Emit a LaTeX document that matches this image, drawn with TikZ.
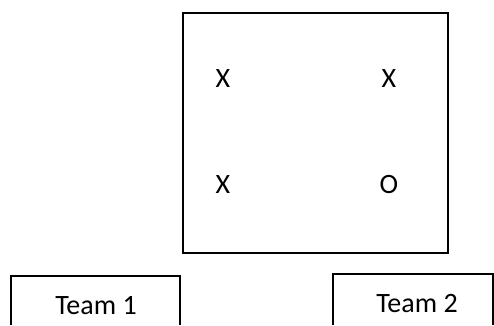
\documentclass[tikz,border=0pt]{standalone}
\usepackage{fontspec}
\setmainfont{Carlito}
\usepackage{tikz}
\usetikzlibrary{positioning}

\begin{document}
\begin{tikzpicture}[
        x=1pt, y=-1pt,
        every node/.style={font=\fontsize{28}{32}\selectfont},
        cell/.style={inner sep=0pt, anchor=center},
        frame/.style={draw, line width=1.6pt},
        team/.style={inner sep=0pt, anchor=center}
    ]
        \useasboundingbox (0,0) rectangle (494,325);
        % board
        \node[frame, rectangle, minimum width=265pt, minimum height=240pt, anchor=north west] (board) at (182,12) {};
        \node[cell] (c11) at (223,79)  {X};
        \node[cell] (c12) at (389,79)  {X};
        \node[cell] (c21) at (223,185) {X};
        \node[cell] (c22) at (389,185) {O};
        % teams
        \node[team] (team1) at (96,306)  {Team 1};
        \node[team] (team2) at (417,304) {Team 2};
        \coordinate (t1nw) at (11,276);
        \coordinate (t1ne) at (180,276);
        \coordinate (t2nw) at (333,274);
        \coordinate (t2ne) at (493,274);
        \draw[frame] (t1nw |- 0,325) -- (t1nw) -- (t1ne) -- (t1ne |- 0,325);
        \draw[frame] (t2nw |- 0,325) -- (t2nw) -- (t2ne) -- (t2ne |- 0,325);
    \end{tikzpicture}
\end{document}
